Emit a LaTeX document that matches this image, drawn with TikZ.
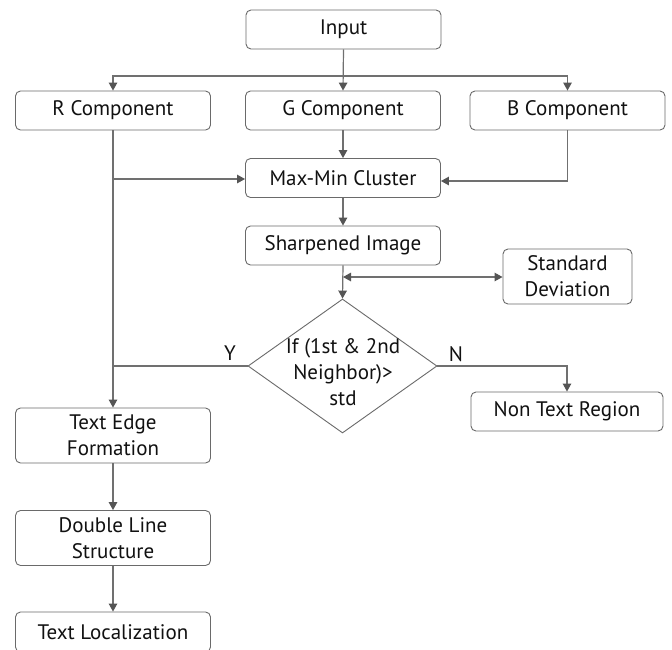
\documentclass[tikz,border=0pt]{standalone}
\usepackage{fontspec}
\setmainfont{PT Sans}
\usetikzlibrary{arrows.meta,shapes.geometric,calc}
\definecolor{edgec}{HTML}{707070}
\definecolor{tipc}{HTML}{555555}
\definecolor{boxc}{HTML}{6A6A6A}
\definecolor{txtc}{HTML}{111111}
\tikzset{
  box/.style={draw=boxc, line width=0.9pt, rounded corners=5pt, minimum width=195pt, minimum height=39pt, inner sep=0pt, align=center, text=txtc, font=\fontsize{21}{26}\selectfont},
  tallbox/.style={box, minimum height=55pt},
  dia/.style={draw=boxc, line width=0.9pt, diamond, minimum width=189pt, minimum height=134pt, inner sep=0pt},
  conn/.style={draw=edgec, line width=1.2pt},
  arr/.style={conn, -{Triangle[length=8pt,width=8.5pt,fill=tipc,color=tipc]}},
  darr/.style={conn, {Triangle[length=8pt,width=8.5pt,fill=tipc,color=tipc]}-{Triangle[length=8pt,width=8.5pt,fill=tipc,color=tipc]}},
  lbl/.style={text=txtc, font=\fontsize{21}{26}\selectfont, inner sep=0pt}
}
\begin{document}
\begin{tikzpicture}[x=1pt,y=-1pt]
\useasboundingbox[fill=white] (0,0) rectangle (672,649);
\node[box] (in) at (343.5,29.5) {Input};
\node[box] (R) at (113,110.5) {R Component};
\node[box] (G) at (343,110.5) {G Component};
\node[box] (B) at (567.5,110.5) {B Component};
\node[box] (mm) at (343,178) {Max-Min Cluster};
\node[box] (sh) at (343,245.5) {Sharpened Image};
\node[tallbox, minimum width=129pt] (sd) at (567.5,276.5) {Standard\\Deviation};
\node[dia] (dec) at (342.5,366) {};
\node[lbl, align=center] (dect) at (343,372) {If (1st \& 2nd\\Neighbor)>\\std};
\node[box, minimum width=192pt] (nt) at (567,411.5) {Non Text Region};
\node[tallbox] (te) at (113,435.5) {Text Edge\\Formation};
\node[tallbox] (dl) at (113,538) {Double Line\\Structure};
\node[box, minimum height=40pt] (tl) at (113,632) {Text Localization};
\node[lbl] (ylab) at (230,353) {Y};
\node[lbl] (nlab) at (456,354) {N};
\coordinate (split) at (343,76);
\coordinate (rj) at (113,179);
\coordinate (sd0) at (343,277);
\coordinate (yj) at (113,366);
% connectors
\draw[arr] (in.south) -- (G.north);
\draw[arr] (split) -| (R.north);
\draw[arr] (split) -| (B.north);
\draw[arr] (G) -- (mm);
\draw[arr] (R) -- (te);
\draw[arr] (rj) -- (mm.west |- rj);
\draw[arr] (B.south) |- ([yshift=-3pt]mm.east);
\draw[arr] (mm) -- (sh);
\draw[arr] (sh.south) -- (dec.north);
\draw[darr] (sd0) -- (sd.west |- sd0);
\draw[conn] (dec.west) -- (yj);
\draw[arr] (dec.east) -| (nt.north);
\draw[arr] (te) -- (dl);
\draw[arr] (dl) -- (tl);
\end{tikzpicture}
\end{document}
